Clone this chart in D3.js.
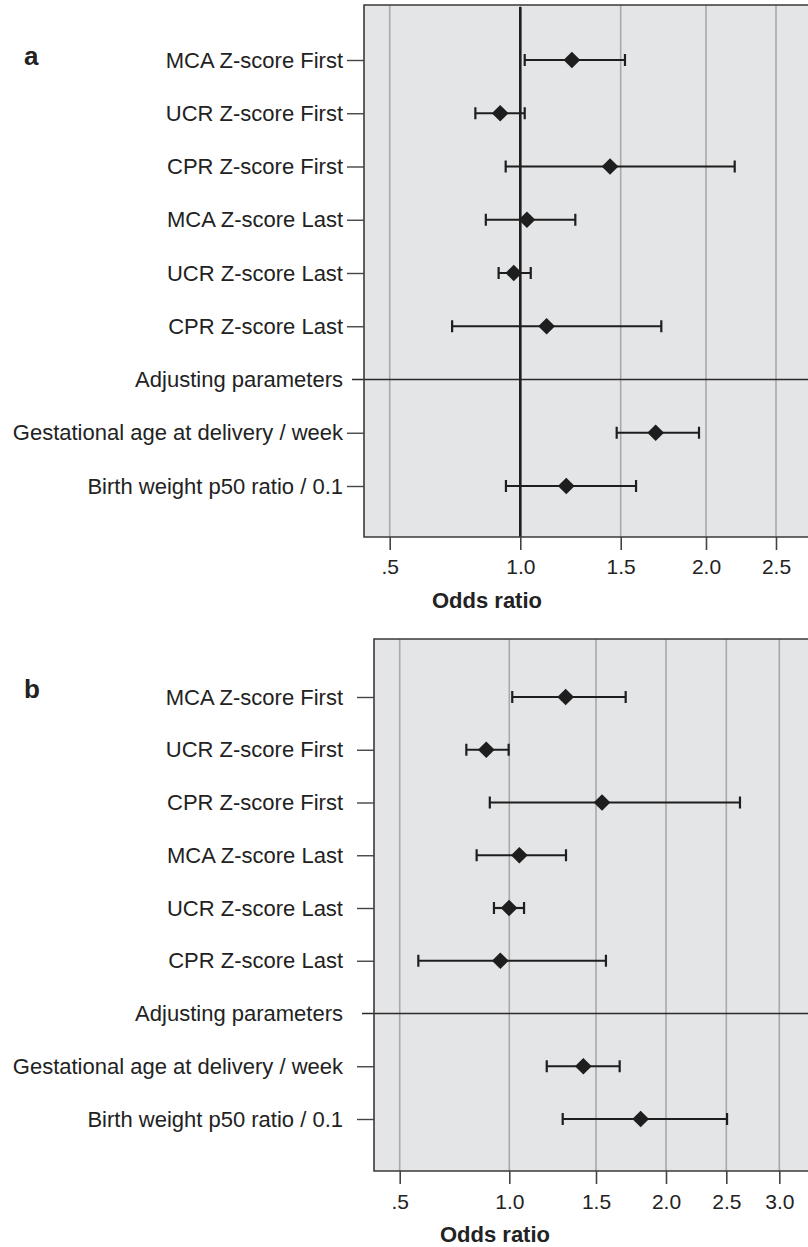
<!DOCTYPE html>
<html>
<head>
<meta charset="utf-8">
<script src="https://cdn.jsdelivr.net/npm/d3@7"></script>
<style>
  html, body { margin: 0; padding: 0; background: #fff; }
  svg { display: block; }
  text { font-family: "Liberation Sans", Arial, sans-serif; fill: #222; }
</style>
</head>
<body>
<script>
// ---- data ----
const categories = [
  "MCA Z-score First", "UCR Z-score First", "CPR Z-score First",
  "MCA Z-score Last", "UCR Z-score Last", "CPR Z-score Last",
  "Adjusting parameters",
  "Gestational age at delivery / week", "Birth weight p50 ratio / 0.1"
];
const dividerCategory = "Adjusting parameters";

// panel a
const aOR    = [1.257, 0.923, 1.447, 1.033, 0.975, 1.131, null, 1.705, 1.229];
const aLower = [1.022, 0.828, 0.944, 0.868, 0.917, 0.739, null, 1.480, 0.945];
const aUpper = [1.525, 1.022, 2.205, 1.274, 1.052, 1.738, null, 1.959, 1.590];
const aTicks = [0.5, 1.0, 1.5, 2.0, 2.5];
const aTickLabels = [".5", "1.0", "1.5", "2.0", "2.5"];

// panel b
const bOR    = [1.325, 0.895, 1.543, 1.058, 0.999, 0.959, null, 1.427, 1.819];
const bLower = [1.017, 0.804, 0.911, 0.851, 0.930, 0.585, null, 1.216, 1.308];
const bUpper = [1.712, 0.997, 2.629, 1.327, 1.085, 1.571, null, 1.669, 2.507];
const bTicks = [0.5, 1.0, 1.5, 2.0, 2.5, 3.0];
const bTickLabels = [".5", "1.0", "1.5", "2.0", "2.5", "3.0"];

const axisTitle = "Odds ratio";

// ---- layout ----
const W = 808, H = 1247;
const svg = d3.select("body").append("svg").attr("width", W).attr("height", H);

const panels = [
  { letter: "a", left: 364, top: 5, bottom: 537, right: 820,
    rowPadTop: 55, rowPadBottom: 51,
    tickPx: [389.7, 520.3, 620.7, 706, 776],
    ticks: aTicks, tickLabels: aTickLabels,
    or: aOR, lo: aLower, hi: aUpper, refLine: true,
    letterPos: [24, 65], titleX: 487, titleBaseline: 608, tickPad: 9 },
  { letter: "b", left: 374, top: 639, bottom: 1171, right: 820,
    rowPadTop: 58, rowPadBottom: 52,
    tickPx: [399.7, 509.3, 596, 666, 726.3, 779.3],
    ticks: bTicks, tickLabels: bTickLabels,
    or: bOR, lo: bLower, hi: bUpper, refLine: false,
    letterPos: [24, 698], titleX: 495, titleBaseline: 1242, tickPad: 10 }
];

panels.forEach(p => {
  const g = svg.append("g");
  const x = d3.scaleLinear().domain(p.ticks).range(p.tickPx);
  const y = d3.scalePoint().domain(categories)
    .range([p.top + p.rowPadTop, p.bottom - p.rowPadBottom]);

  // background
  g.append("rect")
    .attr("x", p.left).attr("y", p.top)
    .attr("width", p.right - p.left).attr("height", p.bottom - p.top)
    .attr("fill", "#e4e5e7");

  // gridlines
  g.selectAll("line.grid").data(p.ticks).join("line")
    .attr("class", "grid")
    .attr("x1", d => x(d)).attr("x2", d => x(d))
    .attr("y1", p.top).attr("y2", p.bottom)
    .attr("stroke", "#a9a9a9").attr("stroke-width", 1.6);

  // divider line (Adjusting parameters)
  g.append("line")
    .attr("x1", p.left - 12).attr("x2", p.right)
    .attr("y1", y(dividerCategory)).attr("y2", y(dividerCategory))
    .attr("stroke", "#2a2a2a").attr("stroke-width", 1.4);

  // reference line at 1
  if (p.refLine) {
    g.append("line")
      .attr("x1", x(1)).attr("x2", x(1))
      .attr("y1", p.top + 2).attr("y2", p.bottom)
      .attr("stroke", "#1e1e1e").attr("stroke-width", 2.6);
  }

  // border (left, top, bottom)
  g.append("path")
    .attr("d", `M${p.right},${p.top}H${p.left}V${p.bottom}H${p.right}`)
    .attr("fill", "none").attr("stroke", "#3a3a3a").attr("stroke-width", 1.6);

  // y axis
  const yAxis = d3.axisLeft(y).tickSize(17).tickPadding(4);
  const ya = g.append("g").attr("transform", `translate(${p.left},0)`).call(yAxis);
  ya.select(".domain").remove();
  ya.selectAll(".tick line").attr("stroke", "#444").attr("stroke-width", 1.4)
    .filter(d => d === dividerCategory).remove();
  ya.selectAll(".tick text")
    .attr("x", 343 - p.left)
    .style("font-size", "22px").style("fill", "#222")
    .attr("font-family", null);

  // x axis
  const xAxis = d3.axisBottom(x).tickValues(p.ticks)
    .tickFormat((d, i) => p.tickLabels[i]).tickSize(13).tickPadding(p.tickPad);
  const xa = g.append("g").attr("transform", `translate(0,${p.bottom})`).call(xAxis);
  xa.select(".domain").remove();
  xa.selectAll(".tick line").attr("stroke", "#444").attr("stroke-width", 1.6);
  xa.selectAll(".tick text").style("font-size", "21px").style("fill", "#222")
    .attr("font-family", null);

  // axis title
  g.append("text")
    .attr("x", p.titleX).attr("y", p.titleBaseline)
    .attr("text-anchor", "middle")
    .style("font-size", "22px").style("font-weight", "bold")
    .text(axisTitle);

  // panel letter
  g.append("text")
    .attr("x", p.letterPos[0]).attr("y", p.letterPos[1])
    .style("font-size", "26px").style("font-weight", "bold")
    .text(p.letter);

  // data rows
  const rows = categories.map((c, i) => ({ c, or: p.or[i], lo: p.lo[i], hi: p.hi[i] }))
    .filter(d => d.or != null);

  const rg = g.selectAll("g.row").data(rows).join("g").attr("class", "row");
  rg.append("line")
    .attr("x1", d => x(d.lo)).attr("x2", d => x(d.hi))
    .attr("y1", d => y(d.c)).attr("y2", d => y(d.c))
    .attr("stroke", "#1e1e1e").attr("stroke-width", 2.2);
  ["lo", "hi"].forEach(k => {
    rg.append("line")
      .attr("x1", d => x(d[k])).attr("x2", d => x(d[k]))
      .attr("y1", d => y(d.c) - 6).attr("y2", d => y(d.c) + 6)
      .attr("stroke", "#1e1e1e").attr("stroke-width", 2.2);
  });
  rg.append("path")
    .attr("d", d3.symbol(d3.symbolSquare, 140)())
    .attr("transform", d => `translate(${x(d.or)},${y(d.c)}) rotate(45)`)
    .attr("fill", "#1e1e1e");
});
</script>
</body>
</html>
